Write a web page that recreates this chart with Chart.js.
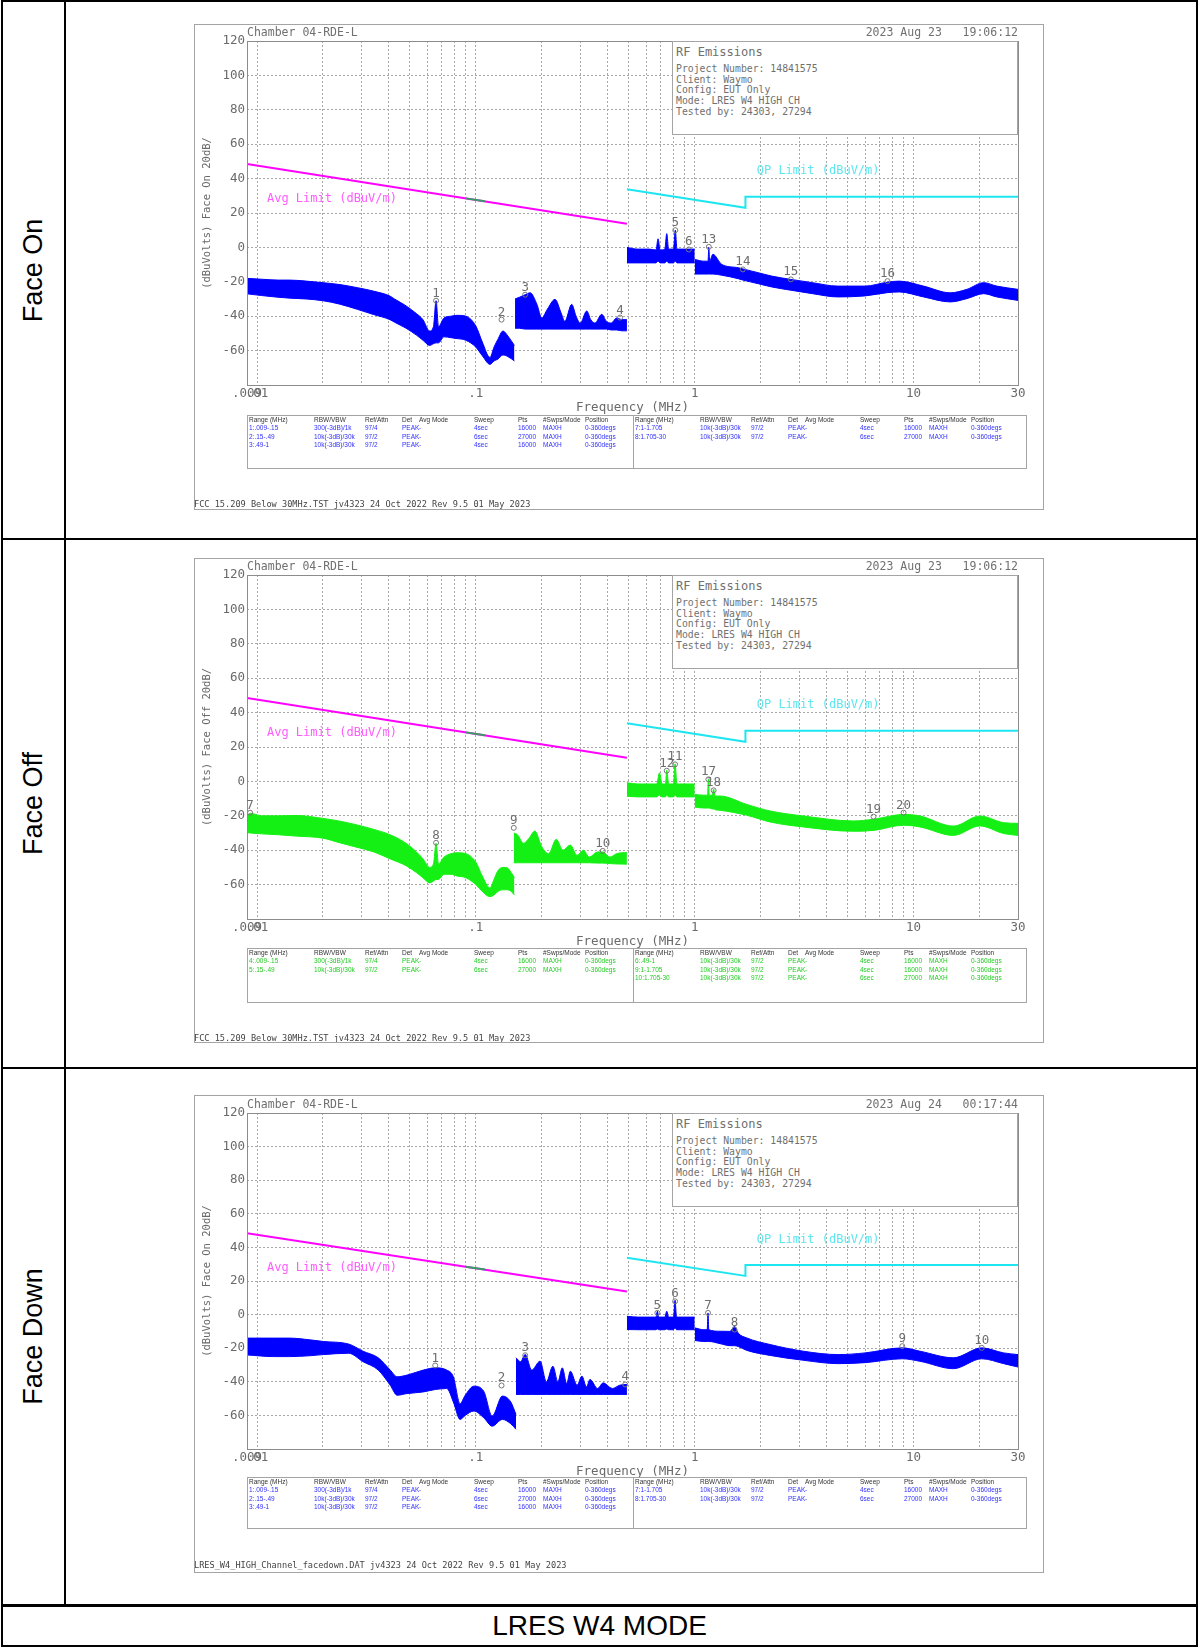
<!DOCTYPE html>
<html>
<head>
<meta charset="utf-8">
<title>LRES W4 MODE</title>
<script src="https://cdn.jsdelivr.net/npm/chart.js@4.4.1/dist/chart.umd.min.js"></script>
<style>
  html, body { margin: 0; padding: 0; background: #fff; }
  body { position: relative; width: 1199px; height: 1648px; overflow: hidden; font-family: "Liberation Sans", Arial, sans-serif; }
  .rule { position: absolute; background: #000; }
  .side { position: absolute; left: 3px; width: 61px; display: flex; align-items: center; justify-content: center; }
  .side span { transform: rotate(-90deg); white-space: nowrap; font-size: 27px; color: #000; }
  .mode { position: absolute; left: 2px; width: 1195px; top: 1607px; height: 38px; line-height: 38px; text-align: center; font-size: 28px; color: #000; }
  .plot { position: absolute; left: 194px; width: 850px; }
  .plot canvas { position: absolute; left: 0; top: 0; }
  .frame { position: absolute; left: 0; top: 0; right: 0; bottom: 0; border: 1px solid #a4a4a4; pointer-events: none; }
  .mono { position: absolute; font-family: "DejaVu Sans Mono", monospace; color: #707070; white-space: pre; line-height: 1; }
  .info { position: absolute; left: 478px; width: 346px; height: 94px; background: #fff; border: 1px solid #a4a4a4; box-sizing: border-box; }
  .tbl { position: absolute; left: 53px; width: 780px; border: 1px solid #a4a4a4; box-sizing: border-box; }
  .tbl .split { position: absolute; left: 385px; top: 0; bottom: 0; width: 1px; background: #a4a4a4; }
  .tbl span { position: absolute; font-size: 6.5px; white-space: nowrap; line-height: 1; }
</style>
</head>
<body>
<script>
// ---------- axis ticks ----------
const gridFreqs = [0.009, 0.01, 0.02, 0.03, 0.04, 0.05, 0.06, 0.07, 0.08, 0.09,
  0.1, 0.2, 0.3, 0.4, 0.5, 0.6, 0.7, 0.8, 0.9,
  1, 2, 3, 4, 5, 6, 7, 8, 9, 10, 20, 30];
const freqTickValues = [0.009, 0.01, 0.1, 1, 10, 30];
const freqTickLabels = ['.009', '.01', '.1', '1', '10', '30'];

// ---------- limit lines (dBuV/m) ----------
const avgLimitFreq = [0.009, 0.49];
const avgLimitDb = [48.5, 13.8];
const avgBandFreq = [0.09, 0.11];
const avgBandDb = [28.5, 26.8];
const qpLimitFreq = [0.49, 1.705, 1.705, 30];
const qpLimitDb = [33.8, 23.0, 29.5, 29.5];

// ---------- Face On trace (upper / lower envelope of the sweep) ----------
const onAFreq = [0.009, 0.0105, 0.0125, 0.0141, 0.0168, 0.02, 0.0239, 0.0287, 0.034, 0.0405, 0.0425, 0.048, 0.0535, 0.0573, 0.0615, 0.064, 0.0658, 0.0675, 0.0715, 0.077, 0.082, 0.09, 0.1, 0.107, 0.116, 0.121, 0.126, 0.133, 0.14, 0.15];
const onAHi = [-18, -18.5, -19, -19, -19.6, -20.5, -21.6, -23.4, -25.4, -28.3, -30, -34, -38.5, -42, -48.6, -46, -31, -46, -41, -40, -39.5, -40, -45.7, -55, -64, -58, -53.5, -48.6, -51.5, -57];
const onALo = [-27, -28, -29, -29.5, -30, -31, -33, -36, -39, -42, -43.5, -47, -51, -54, -57, -56, -55.5, -55.5, -52, -52.5, -53, -54, -58, -63, -68, -66, -65, -62.5, -63.5, -66];
const onBFreq = [0.151, 0.158, 0.168, 0.177, 0.19, 0.2, 0.212, 0.23, 0.245, 0.255, 0.274, 0.287, 0.3, 0.321, 0.335, 0.35, 0.376, 0.395, 0.415, 0.44, 0.465, 0.49];
const onBHi = [-30, -29, -27.5, -26.4, -33, -41, -36, -30.2, -38, -43, -33.1, -40, -44, -37, -42, -44, -38.9, -43, -44, -41, -42, -42];
const onBLo = [-47, -47, -47.5, -47.5, -47.5, -47.5, -47.5, -47.5, -47.5, -47.5, -47.5, -47.5, -47.5, -47.5, -47.5, -47.5, -47.5, -47.5, -48, -48, -48.5, -48.5];
const onCFreq = [0.49, 0.55, 0.62, 0.665, 0.68, 0.695, 0.73, 0.745, 0.76, 0.8, 0.815, 0.83, 0.9, 0.94, 1.0];
const onCHi = [0, -1, -1, -1.5, 5, -1.5, -1, 8, -1, -1, 10, -1, -1, -1, -1];
const onCLo = [-9, -9, -9, -9, -8, -9, -9, -8, -9, -9, -8, -9, -9, -9, -9];
const onDFreq = [1.0, 1.1, 1.15, 1.16, 1.17, 1.21, 1.33, 1.58, 1.66, 1.95, 2.25, 2.75, 3.45, 4.5, 6.0, 7.6, 8.6, 11.1, 14.7, 17.5, 20.9, 24, 30];
const onDHi = [-7, -8, -8, 0, -8, -4, -9.9, -11.8, -12.5, -14.7, -16.7, -18.6, -20.5, -22.5, -22.5, -20.2, -19.6, -22.5, -26.4, -24.4, -20.5, -22.5, -24.4];
const onDLo = [-15.5, -15.5, -15.5, -15.5, -15.5, -15.5, -16.2, -18.2, -19, -21.1, -23, -24.9, -26.9, -28.8, -28.2, -26.3, -25.9, -28.8, -31.7, -29.8, -26.9, -28.8, -30.8];
const onMarkFreq = [0.0658, 0.131, 0.168, 0.456, 0.815, 0.94, 1.16, 1.66, 2.75, 7.6];
const onMarkDb = [-31, -42, -27.5, -40.8, 10, -1.2, 0.3, -12.8, -18.6, -19.6];
const onMarkLabel = ['1', '2', '3', '4', '5', '6', '13', '14', '15', '16'];

// ---------- Face Off trace ----------
const offAFreq = [0.009, 0.0093, 0.0105, 0.0125, 0.0151, 0.02, 0.0239, 0.028, 0.0342, 0.0405, 0.048, 0.0535, 0.0573, 0.0615, 0.064, 0.0658, 0.0675, 0.0715, 0.077, 0.082, 0.09, 0.1, 0.107, 0.116, 0.121, 0.126, 0.133, 0.139, 0.145, 0.15];
const offAHi = [-20, -18.5, -20, -20, -19.8, -21.5, -23.1, -25, -27.9, -31, -36, -41, -45, -50, -48, -36, -48, -44, -42, -41.5, -42, -47, -55, -62, -57, -52, -50, -50.2, -53, -56];
const offALo = [-29.8, -30, -30.5, -31, -31.8, -33, -35.7, -38, -41, -45, -49, -53, -56, -59, -58, -57, -57, -54, -54, -55, -56, -60, -64, -67, -66, -64, -63, -63, -64, -66];
const offBFreq = [0.149, 0.155, 0.165, 0.175, 0.186, 0.2, 0.215, 0.233, 0.25, 0.27, 0.29, 0.31, 0.33, 0.36, 0.38, 0.41, 0.44, 0.49];
const offBHi = [-30, -31, -36, -33, -28.9, -38, -42, -33.7, -40, -37, -43, -40, -44, -41, -41, -44, -42, -41.3];
const offBLo = [-47.3, -47.3, -47.3, -47.3, -47.3, -47.3, -47.3, -47.3, -47.3, -47.3, -47.3, -47.3, -47.3, -47.5, -47.5, -47.8, -48, -48.1];
const offCFreq = [0.49, 0.55, 0.62, 0.67, 0.69, 0.71, 0.735, 0.745, 0.76, 0.8, 0.813, 0.83, 0.9, 1.0];
const offCHi = [-0.8, -1.5, -1.5, -1.5, 5, -1.5, -1.5, 6.5, -1.5, -1.5, 10.2, -1.5, -1.5, -1.5];
const offCLo = [-8.6, -9, -9, -9, -8, -9, -9, -8, -9, -9, -8, -9, -9, -9];
const offDFreq = [1.0, 1.1, 1.145, 1.155, 1.165, 1.2, 1.22, 1.24, 1.306, 1.73, 2.21, 3.14, 5.31, 6.56, 9.0, 10.7, 15.2, 20.1, 25.8, 30];
const offDHi = [-7.6, -8, -8, 1.2, -8, -8, -4.5, -8.5, -8.5, -13.4, -17.2, -20.1, -23, -22, -19.2, -20.1, -26, -20.1, -24, -24.4];
const offDLo = [-14.9, -15.5, -15.5, -15.5, -15.5, -16, -16, -16.5, -16.8, -19.7, -23.6, -26.5, -29, -28.5, -25.5, -26.5, -31.4, -25.9, -30.3, -31.4];
const offMarkFreq = [0.0093, 0.0658, 0.149, 0.38, 0.813, 0.745, 1.155, 1.22, 6.56, 9.0];
const offMarkDb = [-18.2, -35.7, -27, -40.4, 9.9, 6.2, 1.2, -5.2, -20.5, -18.2];
const offMarkLabel = ['7', '8', '9', '10', '11', '12', '17', '18', '19', '20'];

// ---------- Face Down trace ----------
const downAFreq = [0.009, 0.0119, 0.0141, 0.0174, 0.0201, 0.0262, 0.0305, 0.0358, 0.0406, 0.0437, 0.0485, 0.0576, 0.0652, 0.0736, 0.0789, 0.0847, 0.0894, 0.0979, 0.1086, 0.1187, 0.1322, 0.1444, 0.1525];
const downAHi = [-14, -14, -14, -15, -16, -17.5, -21.8, -25.7, -33, -37, -36, -33, -31.7, -33, -37, -53, -48, -42.6, -45.6, -60.4, -48.5, -52, -59.4];
const downALo = [-24, -25, -25, -24.5, -23.8, -23, -28, -33, -42, -48, -47, -46, -44.6, -44, -52, -62.4, -60, -57.4, -61.4, -66.4, -62.4, -65, -68.3];
const downBFreq = [0.1525, 0.16, 0.168, 0.18, 0.1965, 0.21, 0.2249, 0.237, 0.2483, 0.26, 0.2703, 0.29, 0.3052, 0.32, 0.3322, 0.36, 0.3818, 0.42, 0.455, 0.49];
const downBHi = [-25.7, -28, -23.7, -33, -27.7, -40, -30.7, -40, -31.7, -41, -33.7, -42, -36.6, -43, -38.6, -44, -40.6, -44, -42, -41.6];
const downBLo = [-47.5, -47.5, -47.5, -47.5, -47.5, -47.5, -47.5, -47.5, -47.5, -47.5, -47.5, -47.5, -47.5, -47.5, -47.5, -47.5, -47.5, -47.5, -47.5, -47.5];
const downCFreq = [0.49, 0.55, 0.62, 0.665, 0.675, 0.685, 0.73, 0.745, 0.76, 0.8, 0.813, 0.826, 0.9, 1.0];
const downCHi = [-1, -1.5, -1.5, -1.5, 2, -1.5, -1.5, 2, -1.5, -1.5, 8.5, -1.5, -1.5, -1.5];
const downCLo = [-8.9, -9, -9, -9, -8.5, -9, -9, -8.5, -9, -9, -8, -9, -9, -9];
const downDFreq = [1.0, 1.1, 1.14, 1.15, 1.16, 1.306, 1.45, 1.52, 1.58, 1.73, 2.21, 3.14, 4.53, 6.0, 8.88, 10.7, 15.2, 20.5, 25.8, 30];
const downDHi = [-7.9, -9, -9, 1, -9, -9.9, -10, -7, -11, -13.9, -17.8, -21.8, -23.8, -22.8, -19.8, -21.8, -25.7, -19.8, -22.8, -23.8];
const downDLo = [-15.4, -16, -16, -16, -16, -17.3, -18.5, -18.5, -19, -21.3, -24.3, -27.2, -29.2, -28.6, -26.3, -27.8, -32.2, -26.3, -29.2, -31.2];
const downMarkFreq = [0.0652, 0.131, 0.168, 0.481, 0.675, 0.813, 1.15, 1.52, 8.88, 20.5];
const downMarkDb = [-30.3, -42.2, -24.2, -41.6, 1, 7.9, 1, -8.9, -18.8, -19.8];
const downMarkLabel = ['1', '2', '3', '4', '5', '6', '7', '8', '9', '10'];

// ---------- sweep tables ----------
const tableHead = ['Range (MHz)', 'RBW/VBW', 'Ref/Attn', 'Det', 'Avg Mode', 'Sweep', 'Pts', '#Swps/Mode', 'Position'];
const onRowsLeft = [
  ['1:.009-.15', '300(-3dB)/1k', '97/4', 'PEAK', '-', '4sec', '16000', 'MAXH', '0-360degs'],
  ['2:.15-.49', '10k(-3dB)/30k', '97/2', 'PEAK', '-', '6sec', '27000', 'MAXH', '0-360degs'],
  ['3:.49-1', '10k(-3dB)/30k', '97/2', 'PEAK', '-', '4sec', '16000', 'MAXH', '0-360degs']
];
const onRowsRight = [
  ['7:1-1.705', '10k(-3dB)/30k', '97/2', 'PEAK', '-', '4sec', '16000', 'MAXH', '0-360degs'],
  ['8:1.705-30', '10k(-3dB)/30k', '97/2', 'PEAK', '-', '6sec', '27000', 'MAXH', '0-360degs']
];
const offRowsLeft = [
  ['4:.009-.15', '300(-3dB)/1k', '97/4', 'PEAK', '-', '4sec', '16000', 'MAXH', '0-360degs'],
  ['5:.15-.49', '10k(-3dB)/30k', '97/2', 'PEAK', '-', '6sec', '27000', 'MAXH', '0-360degs']
];
const offRowsRight = [
  ['6:.49-1', '10k(-3dB)/30k', '97/2', 'PEAK', '-', '4sec', '16000', 'MAXH', '0-360degs'],
  ['9:1-1.705', '10k(-3dB)/30k', '97/2', 'PEAK', '-', '4sec', '16000', 'MAXH', '0-360degs'],
  ['10:1.705-30', '10k(-3dB)/30k', '97/2', 'PEAK', '-', '6sec', '27000', 'MAXH', '0-360degs']
];
const infoLines = ['Project Number: 14841575', 'Client: Waymo', 'Config: EUT Only', 'Mode: LRES W4 HIGH CH', 'Tested by: 24303, 27294'];

const MONO = '"DejaVu Sans Mono", monospace';
const colX = [1, 66, 117, 154, 171, 226, 270, 295, 337];

// outer table of the page
function rule(l, t, w, h) {
  const d = document.createElement('div');
  d.className = 'rule';
  Object.assign(d.style, {left: l + 'px', top: t + 'px', width: w + 'px', height: h + 'px'});
  document.body.appendChild(d);
}
rule(1, 0, 1197, 2);
rule(1, 0, 2, 1647);
rule(1196, 0, 2, 1647);
rule(1, 1645, 1197, 2);
rule(64, 0, 2, 1606);
rule(1, 538, 1197, 2);
rule(1, 1067, 1197, 2);
rule(1, 1604, 1197, 3);

function side(text, top, height) {
  const d = document.createElement('div');
  d.className = 'side';
  d.style.top = top + 'px';
  d.style.height = height + 'px';
  const s = document.createElement('span');
  s.textContent = text;
  d.appendChild(s);
  document.body.appendChild(d);
}
side('Face On', 2, 536);
side('Face Off', 540, 527);
side('Face Down', 1069, 535);
const mode = document.createElement('div');
mode.className = 'mode';
mode.textContent = 'LRES W4 MODE';
document.body.appendChild(mode);

function addText(parent, text, css) {
  const d = document.createElement('div');
  d.className = 'mono';
  d.textContent = text;
  Object.assign(d.style, css);
  parent.appendChild(d);
  return d;
}

// numbers above the markers, limit captions and the plot frame
const plotText = {
  id: 'plotText',
  afterDatasetsDraw(chart, args, o) {
    const {ctx, chartArea: a, scales: {x, y}} = chart;
    ctx.save();
    ctx.strokeStyle = '#8c8c8c';
    ctx.lineWidth = 1;
    ctx.strokeRect(Math.round(a.left) + 0.5, Math.round(a.top) + 0.5, Math.round(a.right - a.left), Math.round(a.bottom - a.top));
    ctx.font = '12px ' + MONO;
    ctx.textBaseline = 'middle';
    ctx.textAlign = 'left';
    ctx.fillStyle = '#ff5cff';
    ctx.fillText('Avg Limit (dBuV/m)', x.getPixelForValue(o.avgAt[0]), y.getPixelForValue(o.avgAt[1]));
    ctx.fillStyle = '#5ee6f0';
    ctx.fillText('QP Limit (dBuV/m)', x.getPixelForValue(o.qpAt[0]), y.getPixelForValue(o.qpAt[1]));
    const pts = chart.getDatasetMeta(0).data;
    ctx.fillStyle = '#6e6e6e';
    ctx.textAlign = 'center';
    ctx.textBaseline = 'alphabetic';
    ctx.font = '12.5px ' + MONO;
    pts.forEach((p, i) => ctx.fillText(o.marks[i], p.x, p.y - 4));
    ctx.restore();
  }
};

function xy(freq, db) {
  return freq.map((f, i) => ({x: f, y: db[i]}));
}

function band(freq, hi, lo, color) {
  return [
    {data: xy(freq, hi), borderColor: color, backgroundColor: color, borderWidth: 1, pointRadius: 0, fill: '+1', cubicInterpolationMode: 'monotone'},
    {data: xy(freq, lo), borderColor: color, borderWidth: 1, pointRadius: 0, fill: false, cubicInterpolationMode: 'monotone'}
  ];
}

const panels = [
  {top: 24, height: 486, plotTop: 17, plotBottom: 361, tableTop: 391, tableH: 54, footerTop: 476,
   color: '#0000ff', ink: '#3030ff', yTitle: '(dBuVolts) Face On 20dB/',
   date: '2023 Aug 23   19:06:12', footer: 'FCC 15.209 Below 30MHz.TST jv4323 24 Oct 2022 Rev 9.5 01 May 2023',
   segs: [[onAFreq, onAHi, onALo], [onBFreq, onBHi, onBLo], [onCFreq, onCHi, onCLo], [onDFreq, onDHi, onDLo]],
   mFreq: onMarkFreq, mDb: onMarkDb, mLabel: onMarkLabel, rowsL: onRowsLeft, rowsR: onRowsRight},
  {top: 558, height: 485, plotTop: 17, plotBottom: 361, tableTop: 390, tableH: 55, footerTop: 476,
   color: '#14f014', ink: '#22cc22', yTitle: '(dBuVolts) Face Off 20dB/',
   date: '2023 Aug 23   19:06:12', footer: 'FCC 15.209 Below 30MHz.TST jv4323 24 Oct 2022 Rev 9.5 01 May 2023',
   segs: [[offAFreq, offAHi, offALo], [offBFreq, offBHi, offBLo], [offCFreq, offCHi, offCLo], [offDFreq, offDHi, offDLo]],
   mFreq: offMarkFreq, mDb: offMarkDb, mLabel: offMarkLabel, rowsL: offRowsLeft, rowsR: offRowsRight},
  {top: 1095, height: 478, plotTop: 18, plotBottom: 354, tableTop: 382, tableH: 52, footerTop: 466,
   color: '#0000ff', ink: '#3030ff', yTitle: '(dBuVolts) Face On 20dB/',
   date: '2023 Aug 24   00:17:44', footer: 'LRES_W4_HIGH_Channel_facedown.DAT jv4323 24 Oct 2022 Rev 9.5 01 May 2023',
   segs: [[downAFreq, downAHi, downALo], [downBFreq, downBHi, downBLo], [downCFreq, downCHi, downCLo], [downDFreq, downDHi, downDLo]],
   mFreq: downMarkFreq, mDb: downMarkDb, mLabel: downMarkLabel, rowsL: onRowsLeft, rowsR: onRowsRight}
];

panels.forEach(p => {
  const box = document.createElement('div');
  box.className = 'plot';
  box.style.top = p.top + 'px';
  box.style.height = p.height + 'px';
  document.body.appendChild(box);

  const cv = document.createElement('canvas');
  cv.width = 850;
  cv.height = p.height;
  box.appendChild(cv);

  addText(box, 'Chamber 04-RDE-L', {left: '53px', top: (p.plotTop - 14) + 'px', fontSize: '11.5px'});
  addText(box, p.date, {right: '26px', top: (p.plotTop - 14) + 'px', fontSize: '11.5px'});

  const info = document.createElement('div');
  info.className = 'info';
  info.style.top = p.plotTop + 'px';
  box.appendChild(info);
  addText(info, 'RF Emissions', {left: '3px', top: '4px', fontSize: '12px'});
  infoLines.forEach((t, i) => addText(info, t, {left: '3px', top: (22 + i * 10.7) + 'px', fontSize: '9.8px'}));

  const tbl = document.createElement('div');
  tbl.className = 'tbl';
  tbl.style.top = p.tableTop + 'px';
  tbl.style.height = p.tableH + 'px';
  const split = document.createElement('div');
  split.className = 'split';
  tbl.appendChild(split);
  [[0, p.rowsL], [386, p.rowsR]].forEach(([off, rows]) => {
    tableHead.forEach((h, c) => {
      const s = document.createElement('span');
      s.textContent = h;
      Object.assign(s.style, {left: (off + colX[c]) + 'px', top: '1px', color: '#333'});
      tbl.appendChild(s);
    });
    rows.forEach((r, k) => r.forEach((t, c) => {
      const s = document.createElement('span');
      s.textContent = t;
      Object.assign(s.style, {left: (off + colX[c]) + 'px', top: (9 + k * 8.5) + 'px', color: p.ink});
      tbl.appendChild(s);
    }));
  });
  box.appendChild(tbl);

  addText(box, p.footer, {left: '0px', top: p.footerTop + 'px', fontSize: '8.6px', color: '#444'});
  const frame = document.createElement('div');
  frame.className = 'frame';
  box.appendChild(frame);

  const datasets = [
    {data: xy(p.mFreq, p.mDb), showLine: false, pointRadius: 2.5, pointStyle: 'circle',
     pointBorderColor: '#777', pointBackgroundColor: 'rgba(0,0,0,0)', pointBorderWidth: 1},
    {data: xy(avgBandFreq, avgBandDb), borderColor: '#3a9a6a', borderWidth: 2, pointRadius: 0, fill: false},
    {data: xy(avgLimitFreq, avgLimitDb), borderColor: '#ff00ff', borderWidth: 2, pointRadius: 0, fill: false},
    {data: xy(qpLimitFreq, qpLimitDb), borderColor: '#1ee6f0', borderWidth: 2, pointRadius: 0, fill: false}
  ];
  p.segs.forEach(s => datasets.push(...band(s[0], s[1], s[2], p.color)));

  const axisFont = {family: MONO, size: 12.5};
  new Chart(cv, {
    type: 'line',
    data: {datasets: datasets},
    options: {
      responsive: false,
      animation: false,
      events: [],
      layout: {padding: {left: 0, top: p.plotTop, right: 26, bottom: p.height - p.plotBottom - 30}},
      plugins: {
        legend: {display: false},
        tooltip: {enabled: false},
        plotText: {marks: p.mLabel, avgAt: [0.0111, 28], qpAt: [1.92, 44.5]}
      },
      scales: {
        x: {
          type: 'logarithmic',
          min: 0.009,
          max: 30,
          afterBuildTicks: s => { s.ticks = gridFreqs.map(v => ({value: v})); },
          afterFit: s => { s.height = 30; },
          ticks: {
            autoSkip: false, maxRotation: 0, minRotation: 0, padding: 1,
            color: '#6a6a6a', font: axisFont,
            callback: v => {
              const k = freqTickValues.indexOf(v);
              return k < 0 ? '' : freqTickLabels[k];
            }
          },
          grid: {color: '#a8a8a8', lineWidth: 1, drawTicks: false},
          border: {display: false, dash: [2, 2]},
          title: {display: true, text: 'Frequency (MHz)', color: '#6a6a6a', font: axisFont, padding: {top: 0, bottom: 0}}
        },
        y: {
          min: -80,
          max: 120,
          afterFit: s => { s.width = 53; },
          ticks: {stepSize: 20, padding: 2, color: '#6a6a6a', font: axisFont, callback: v => v === -80 ? '' : v},
          grid: {color: '#a8a8a8', lineWidth: 1, drawTicks: false},
          border: {display: false, dash: [2, 2]},
          title: {display: true, text: p.yTitle, color: '#6a6a6a', font: {family: MONO, size: 10.5}, padding: {top: 7, bottom: 0}}
        }
      }
    },
    plugins: [plotText]
  });
});
</script>
</body>
</html>
